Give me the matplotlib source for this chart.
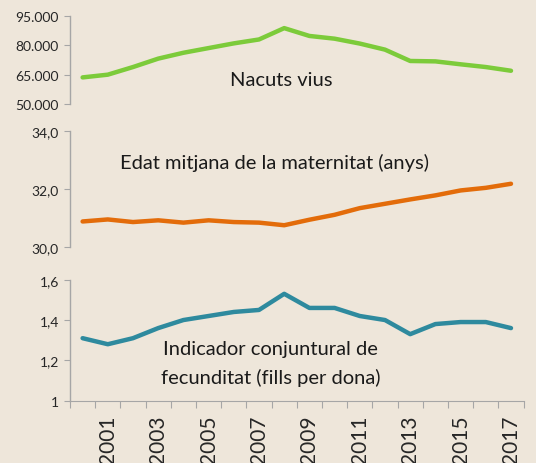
import numpy as np
import matplotlib
matplotlib.use('Agg')
import matplotlib.pyplot as plt

# ============================================
# DADES
# ============================================
anys = list(range(2000, 2018))
nacuts = [63600, 65000, 68900, 73200, 76200, 78600, 81000, 83000, 88800,
          84800, 83400, 80900, 77800, 72000, 71800, 70300, 68900, 67000]
edat_mitjana = [30.87, 30.94, 30.85, 30.91, 30.83, 30.91, 30.85, 30.83, 30.74,
                30.93, 31.10, 31.33, 31.48, 31.63, 31.77, 31.94, 32.03, 32.17]
fecunditat = [1.31, 1.28, 1.31, 1.36, 1.40, 1.42, 1.44, 1.45, 1.53,
              1.46, 1.46, 1.42, 1.40, 1.33, 1.38, 1.39, 1.39, 1.36]

ticks_nacuts = [50000, 65000, 80000, 95000]
labels_nacuts = ['50.000', '65.000', '80.000', '95.000']
ticks_edat = [30, 32, 34]
labels_edat = ['30,0', '32,0', '34,0']
ticks_fec = [1.0, 1.2, 1.4, 1.6]
labels_fec = ['1', '1,2', '1,4', '1,6']

# ============================================
# ESTIL
# ============================================
FONS = '#EEE6DA'
GRIS = '#A6A6A6'
TEXT = '#262626'
plt.rcParams['font.family'] = ['Lato', 'DejaVu Sans']

W, H = 536, 464
fig = plt.figure(figsize=(W / 100, H / 100), dpi=100, facecolor=FONS)

x = np.arange(len(anys))
x_left, x_right = 70, 70 + 18 * 25.2


def eix(y_top, y_bot):
    return fig.add_axes([x_left / W, 1 - y_bot / H, (x_right - x_left) / W, (y_bot - y_top) / H])


def estil(ax, ticks, labels, ylim):
    ax.set_facecolor(FONS)
    ax.set_xlim(-0.5, len(anys) - 0.5)
    ax.set_ylim(*ylim)
    ax.set_yticks(ticks)
    ax.set_yticklabels(labels, fontsize=10, color=TEXT)
    for s in ['top', 'right', 'bottom']:
        ax.spines[s].set_visible(False)
    ax.spines['left'].set_color(GRIS)
    ax.spines['left'].set_linewidth(1)
    ax.tick_params(axis='y', length=4, color=GRIS, pad=4)
    ax.set_xticks([])


ax1 = eix(17, 105)
ax1.plot(x, nacuts, color='#7CCB3A', linewidth=3.2, solid_capstyle='round')
estil(ax1, ticks_nacuts, labels_nacuts, (50000, 95000))
ax1.text(281 / W, 1 - 81 / H, 'Nacuts vius', transform=fig.transFigure,
         ha='center', va='center', fontsize=14.5, color='#1A1A1A')

ax2 = eix(131.7, 247.7)
ax2.plot(x, edat_mitjana, color='#E36C0A', linewidth=3.2, solid_capstyle='round')
estil(ax2, ticks_edat, labels_edat, (30, 34))
ax2.text(274 / W, 1 - 163 / H, 'Edat mitjana de la maternitat (anys)', transform=fig.transFigure,
         ha='center', va='center', fontsize=14.5, color='#1A1A1A')

ax3 = eix(280.7, 401.7)
ax3.plot(x, fecunditat, color='#2E8A9E', linewidth=3.2, solid_capstyle='round')
estil(ax3, ticks_fec, labels_fec, (1.0, 1.6))
ax3.spines['bottom'].set_visible(True)
ax3.spines['bottom'].set_color(GRIS)
ax3.set_xticks(np.arange(len(anys) + 1) - 0.5)
ax3.set_xticklabels([])
ax3.tick_params(axis='x', length=5, color=GRIS)
ax3.set_xticks(x[1::2], minor=True)
ax3.set_xticklabels([str(a) for a in anys[1::2]], minor=True, rotation=90,
                    fontsize=15, color=TEXT)
ax3.tick_params(axis='x', which='minor', length=0, pad=10)
ax3.text(270 / W, 1 - 350 / H, 'Indicador conjuntural de', transform=fig.transFigure,
         ha='center', va='center', fontsize=14.5, color='#1A1A1A')
ax3.text(271 / W, 1 - 378 / H, 'fecunditat (fills per dona)', transform=fig.transFigure,
         ha='center', va='center', fontsize=14.5, color='#1A1A1A')

fig.savefig('out.png', dpi=100, facecolor=FONS)
